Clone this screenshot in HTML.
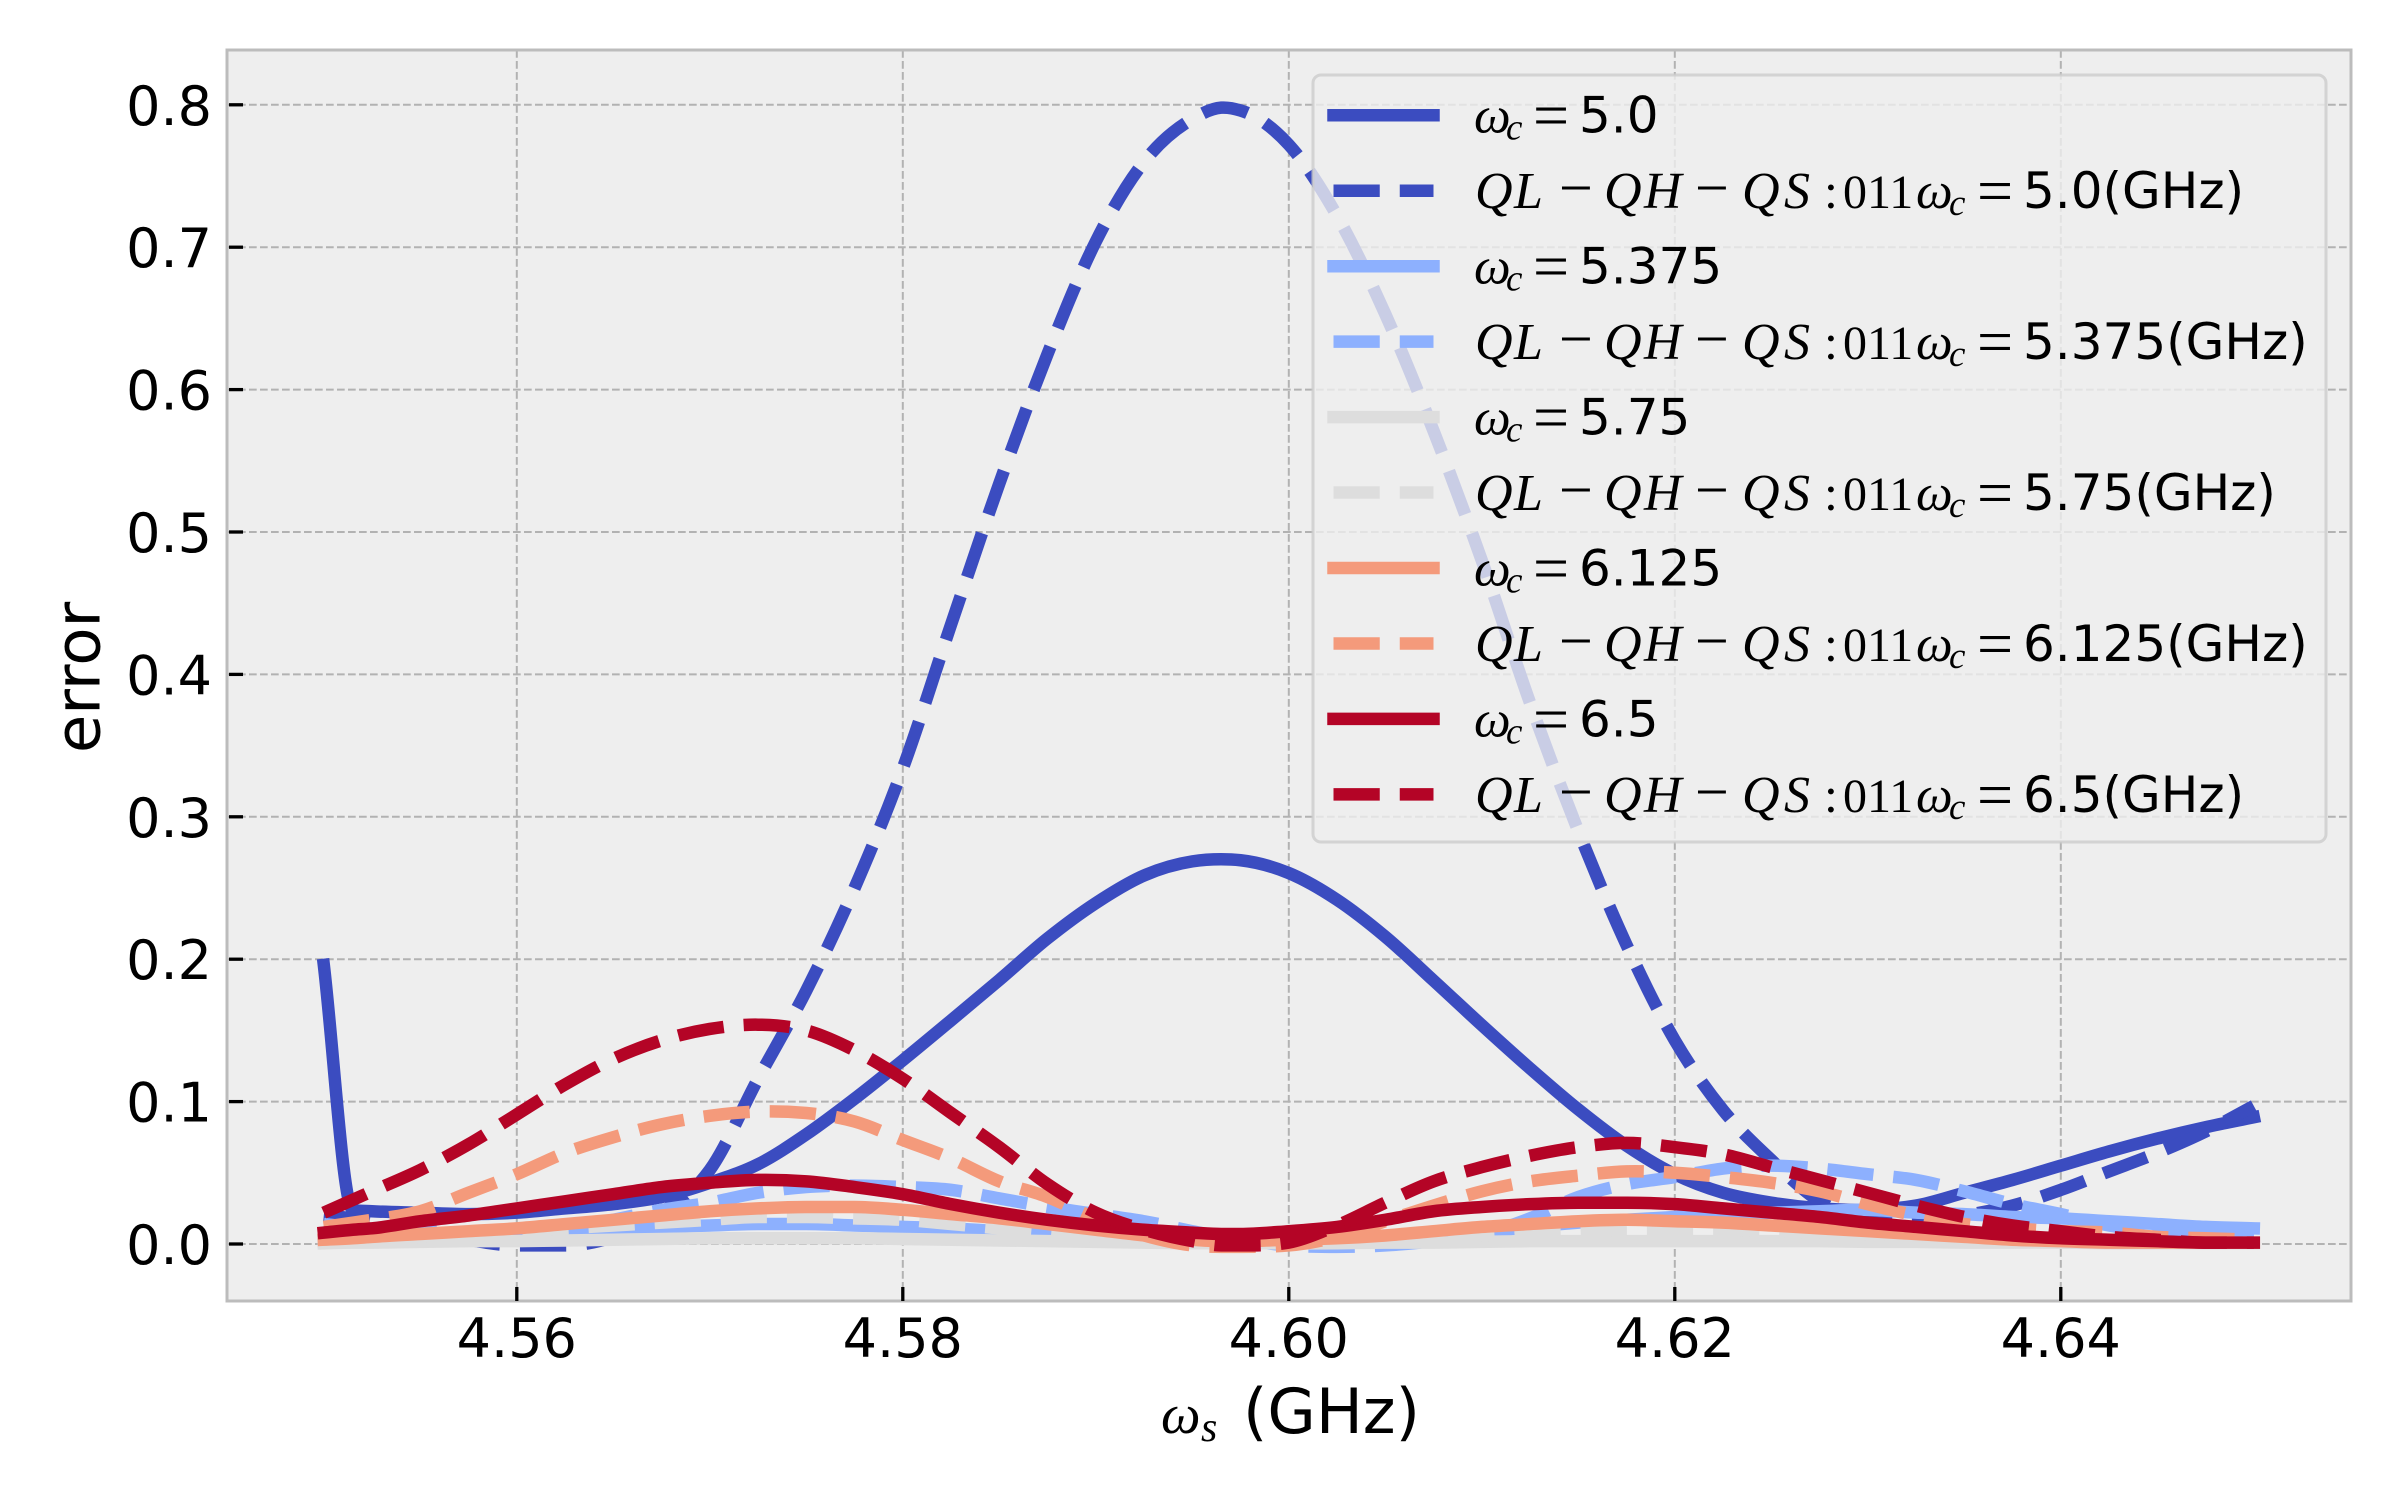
<!DOCTYPE html>
<html lang="en">
<head>
<meta charset="utf-8">
<title>Error vs qubit frequency</title>
<style>
html,body{margin:0;padding:0;background:#fff;}
svg{display:block;}
text{font-family:"DejaVu Sans",sans-serif;fill:#000;}
.m{font-family:"Liberation Serif",serif;font-style:italic;}
.r{font-family:"Liberation Serif",serif;font-style:normal;}
</style>
</head>
<body>
<svg id="chart" xmlns="http://www.w3.org/2000/svg" width="2400" height="1500" viewBox="0 0 2400 1500">
<rect x="0" y="0" width="2400" height="1500" fill="#ffffff"/>
<rect x="227" y="50" width="2124" height="1251" fill="#eeeeee"/>
<g id="grid"></g>
<g id="series"></g>
<rect x="227" y="50" width="2124" height="1251" fill="none" stroke="#bcbcbc" stroke-width="3"/>
<g id="ticks"></g>
<text transform="translate(99.5,677.5) rotate(-90)" font-size="62.5" text-anchor="middle">error</text>
<g>
<text class="m" x="1161" y="1433" font-size="56">ω</text>
<text class="m" x="1201" y="1441" font-size="42">s</text>
<text x="1243" y="1433" font-size="62.5">(GHz)</text>
</g>
<g id="legend">
<rect x="1313" y="75" width="1013" height="767" rx="8" ry="8" fill="#eeeeee" fill-opacity="0.8" stroke="#cccccc" stroke-opacity="0.8" stroke-width="3"/>
</g>
</svg>
<script>
const xValues = [4.55,4.5515,4.5525,4.555,4.5575,4.56,4.5625,4.565,4.5675,4.57,4.5725,4.575,4.5775,4.58,4.5825,4.585,4.5875,4.59,4.5925,4.595,4.5965,4.5975,4.6,4.6025,4.605,4.6075,4.61,4.6125,4.615,4.6175,4.62,4.6225,4.625,4.6275,4.63,4.6325,4.635,4.6375,4.64,4.6425,4.645,4.6475,4.65];
const solid500 = [.196,.024,.023,.022,.021,.022,.025,.028,.033,.043,.056,.077,.102,.129,.157,.1854,.2146,.2394,.2588,.2687,.2702,.2695,.2605,.2417,.2158,.185,.1537,.1233,.0945,.069,.049,.036,.029,.025,.024,.027,.036,.045,.055,.065,.074,.082,.089];
const dashed500 = [.02,.018,.016,.011,.003,-.001,-.001,.005,.022,.052,.116,.178,.25,.334,.435,.534,.625,.704,.76,.79,.798,.796,.772,.722,.653,.571,.48,.38,.29,.21,.143,.094,.059,.03,.017,.015,.02,.027,.038,.051,.064,.079,.097];
const solid5375 = [.002,.003,.004,.005,.007,.008,.009,.011,.012,.013,.014,.014,.013,.012,.011,.009,.007,.005,.003,.002,.002,.002,.003,.004,.005,.006,.008,.012,.015,.017,.019,.021,.022,.023,.024,.022,.021,.019,.018,.016,.014,.012,.011];
const dashed5375 = [.014,.012,.011,.009,.008,.008,.011,.017,.024,.029,.036,.04,.041,.04,.038,.032,.026,.021,.016,.009,.005,.003,-.001,-.002,-.001,.002,.007,.018,.033,.042,.047,.053,.055,.053,.049,.045,.037,.028,.021,.013,.009,.006,.004];
const solid575 = [.0005,.001,.001,.0015,.002,.002,.0025,.003,.0035,.004,.004,.004,.004,.0035,.003,.0025,.002,.0015,.001,.0005,.0005,.0005,.0005,.0005,.001,.001,.0015,.002,.002,.002,.002,.002,.002,.002,.0015,.0015,.001,.001,.001,.0005,.0005,.0005,.0005];
const dashed575 = [.003,.003,.004,.005,.007,.009,.011,.013,.015,.017,.019,.019,.018,.017,.014,.011,.008,.005,.003,.001,.001,.001,.001,.002,.003,.005,.006,.008,.009,.010,.010,.010,.009,.008,.007,.006,.005,.004,.003,.002,.001,.001,.001];
const solid6125 = [.003,.004,.005,.007,.009,.011,.014,.017,.020,.023,.025,.026,.026,.024,.021,.018,.014,.010,.006,.003,.002,.002,.003,.004,.006,.009,.012,.014,.016,.017,.016,.015,.013,.011,.009,.007,.005,.003,.002,.001,.001,.001,.001];
const dashed6125 = [.012,.015,.017,.023,.036,.049,.064,.075,.084,.090,.093,.092,.086,.073,.06,.044,.033,.018,.006,-.001,-.002,-.002,-.001,.005,.016,.027,.037,.044,.048,.051,.05,.047,.043,.037,.028,.02,.014,.011,.009,.008,.005,.004,.003];
const solid650 = [.008,.010,.011,.016,.02,.025,.030,.035,.04,.043,.045,.044,.04,.035,.028,.022,.017,.013,.01,.008,.007,.007,.009,.012,.017,.023,.026,.028,.029,.029,.028,.025,.022,.019,.015,.012,.009,.006,.004,.003,.002,.001,.001];
const dashed650 = [.022,.031,.037,.052,.07,.091,.112,.130,.143,.151,.154,.150,.136,.116,.092,.068,.042,.022,.010,.002,-.001,-.001,.001,.013,.029,.044,.054,.062,.068,.071,.068,.063,.054,.045,.036,.027,.019,.013,.009,.005,.003,.001,.001];
const xTicks = [4.56,4.58,4.60,4.62,4.64];
const xTickLabels = ["4.56","4.58","4.60","4.62","4.64"];
const yTicks = [0,0.1,0.2,0.3,0.4,0.5,0.6,0.7,0.8];
const yTickLabels = ["0.0","0.1","0.2","0.3","0.4","0.5","0.6","0.7","0.8"];
const legendValues = ["5.0","5.375","5.75","6.125","6.5"];
const seriesColors = ["#3b4cc0","#8db0fe","#dddddd","#f49a7b","#b40426"];
const solidSeries = [solid500,solid5375,solid575,solid6125,solid650];
const dashedSeries = [dashed500,dashed5375,dashed575,dashed6125,dashed650];

const NS = "http://www.w3.org/2000/svg";
const X = v => 516.8 + (v - 4.56) * 19300;
const Y = v => 1244 - v * 1424;
function make(tag, attrs, parent, txt){
  const el = document.createElementNS(NS, tag);
  for (const k in attrs) el.setAttribute(k, attrs[k]);
  if (txt !== undefined) el.textContent = txt;
  parent.appendChild(el);
  return el;
}
function tangents(px, py){
  const n = px.length, d = [], t = [];
  for (let i = 0; i < n - 1; i++) d.push((py[i+1]-py[i])/(px[i+1]-px[i]));
  t.push(d[0]);
  for (let i = 1; i < n - 1; i++){
    const a = d[i-1], b = d[i];
    const h0 = px[i]-px[i-1], h1 = px[i+1]-px[i];
    let m = (a*h1 + b*h0)/(h0+h1);
    if (a*b > 0){
      const lim = 3*Math.min(Math.abs(a),Math.abs(b));
      if (Math.abs(m) > lim) m = Math.sign(m)*lim;
    } else {
      const big = Math.max(Math.abs(a),Math.abs(b)), small = Math.min(Math.abs(a),Math.abs(b));
      if (big > 4*small + 0.02) m = 0;
    }
    t.push(m);
  }
  t.push(d[n-2]);
  return t;
}
function pathFor(vals){
  const px = xValues.map(X), py = vals.map(Y), t = tangents(px, py);
  let s = "M" + px[0].toFixed(2) + " " + py[0].toFixed(2);
  for (let i = 0; i < px.length - 1; i++){
    const h = (px[i+1]-px[i])/3;
    s += "C" + (px[i]+h).toFixed(2) + " " + (py[i]+t[i]*h).toFixed(2) + " " +
         (px[i+1]-h).toFixed(2) + " " + (py[i+1]-t[i+1]*h).toFixed(2) + " " +
         px[i+1].toFixed(2) + " " + py[i+1].toFixed(2);
  }
  return s;
}

const grid = document.getElementById("grid");
xTicks.forEach(function(v){
  const g = make("line",{x1:X(v),x2:X(v),y1:50,y2:1301,stroke:"#b2b2b2","stroke-width":2,"stroke-dasharray":"7.7 3.3"},grid);
  
  
});
yTicks.forEach(function(v){
  const g = make("line",{x1:227,x2:2351,y1:Y(v),y2:Y(v),stroke:"#b2b2b2","stroke-width":2,"stroke-dasharray":"7.7 3.3"},grid);
  
  
});

const seriesG = document.getElementById("series");
legendValues.forEach(function(name,i){
  const a = make("path",{d:pathFor(solidSeries[i]),fill:"none",stroke:seriesColors[i],"stroke-width":12.5,"stroke-linecap":"square","stroke-linejoin":"round"},seriesG);
  
  
  const b = make("path",{d:pathFor(dashedSeries[i]),fill:"none",stroke:seriesColors[i],"stroke-width":12.5,"stroke-dasharray":"46.25 20","stroke-linecap":"butt","stroke-linejoin":"round"},seriesG);
  
  
});

const ticks = document.getElementById("ticks");
xTicks.forEach(function(v,i){
  const t = make("line",{x1:X(v),x2:X(v),y1:1287,y2:1301,stroke:"#000","stroke-width":3.3},ticks);
  
  
  const l = make("text",{x:X(v),y:1357,"font-size":54,"text-anchor":"middle"},ticks,xTickLabels[i]);
  
  
});
yTicks.forEach(function(v,i){
  const t = make("line",{x1:229,x2:243,y1:Y(v),y2:Y(v),stroke:"#000","stroke-width":3.3},ticks);
  
  
  const l = make("text",{x:212,y:Y(v)+20,"font-size":54,"text-anchor":"end"},ticks,yTickLabels[i]);
  
  
});

const legend = document.getElementById("legend");
function piece(parent, cls, x, y, size, str){
  const t = make("text",{x:x,y:y,"font-size":size},parent,str);
  if (cls) t.setAttribute("class",cls);
  return t;
}
legendValues.forEach(function(name,i){
  const hy = 115.3 + i*150.9;
  const base = hy + 17.4;
  const gA = make("g",{},legend);
  
  
  make("line",{x1:1333.5,x2:1433.5,y1:hy,y2:hy,stroke:seriesColors[i],"stroke-width":12.5,"stroke-linecap":"square"},gA);
  piece(gA,"m",1474,base,52,"ω");
  piece(gA,"m",1506,base+7,37,"c");
  piece(gA,"r",1533,base+4,64,"=");
  piece(gA,"",1579,base,50,name);
  const hy2 = hy + 75.45, base2 = hy2 + 17.4;
  const gB = make("g",{},legend);
  
  
  make("line",{x1:1333.5,x2:1433.5,y1:hy2,y2:hy2,stroke:seriesColors[i],"stroke-width":12.5,"stroke-dasharray":"46.25 20"},gB);
  piece(gB,"m",1475,base2,52,"Q");
  piece(gB,"m",1514,base2,52,"L");
  piece(gB,"r",1559,base2,60,"−");
  piece(gB,"m",1604,base2,52,"Q");
  piece(gB,"m",1644,base2,52,"H");
  piece(gB,"r",1695,base2,60,"−");
  piece(gB,"m",1742,base2,52,"Q");
  piece(gB,"m",1784,base2,52,"S");
  piece(gB,"r",1824,base2,50,":");
  piece(gB,"r",1843,base2,48,"011");
  piece(gB,"m",1916,base2,52,"ω");
  piece(gB,"m",1949,base2+7,37,"c");
  piece(gB,"r",1977,base2+4,64,"=");
  piece(gB,"",2023,base2,50,name + "(GHz)");
});
</script>
</body>
</html>
